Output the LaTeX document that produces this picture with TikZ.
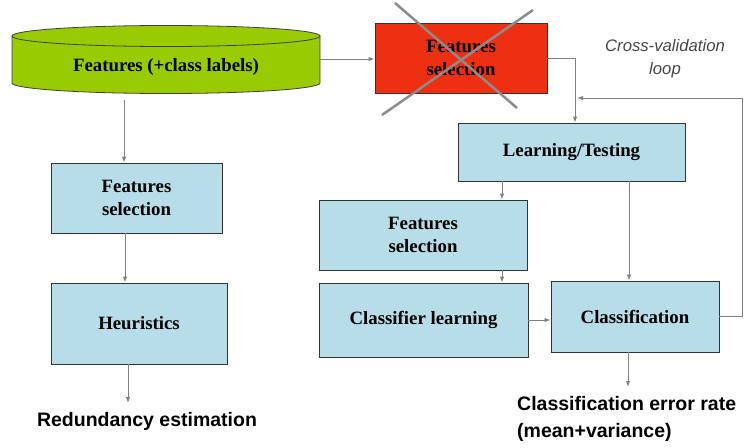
\documentclass[tikz,border=0pt]{standalone}
\usepackage{fontspec}
\setmainfont{Liberation Serif}
\newfontfamily\arialf{Liberation Sans}
\usetikzlibrary{arrows.meta,calc}
\definecolor{cylgreen}{RGB}{153,204,0}
\definecolor{boxblue}{RGB}{183,221,232}
\definecolor{redbox}{RGB}{238,48,18}
\definecolor{linegray}{RGB}{128,128,128}
\definecolor{crossgray}{RGB}{140,140,140}
\definecolor{loopgray}{RGB}{70,70,70}
\tikzset{
  procbox/.style={draw=black!80, line width=0.8pt, fill=boxblue, align=center, inner sep=0pt,
    font=\bfseries\fontsize{18.8}{23}\selectfont},
  arr/.style={draw=linegray, line width=1pt, -{Latex[length=6pt,width=4.5pt]}},
  outtext/.style={font=\arialf\bfseries\fontsize{19.5}{27}\selectfont, inner sep=0pt, align=left},
}
\begin{document}
\begin{tikzpicture}[x=1pt,y=-1pt]
\useasboundingbox (0,0) rectangle (746,447);
% cylinder
\path[fill=cylgreen, draw=black!75, line width=0.8pt]
  (12,36) -- (12,83) arc[start angle=180, end angle=0, x radius=154, y radius=10.5] -- (320,36) -- cycle;
\path[fill=cylgreen, draw=black!75, line width=0.8pt] (166,36) ellipse[x radius=154, y radius=10.5];
\node[minimum width=308, minimum height=68, inner sep=0pt] (feat) at (166,59) {};
\node[font=\bfseries\fontsize{18.8}{23}\selectfont, inner sep=0pt] (feattxt) at (166,67) {Features (+class labels)};
% red box
\node[procbox, fill=redbox, minimum width=172, minimum height=70] (fsx) at (461,58) {Features\\selection};
\draw[crossgray, line width=2.5pt] (395,3) -- (517,108);
\draw[crossgray, line width=2.5pt] (533,10) -- (382,115);
% boxes
\node[procbox, minimum width=171, minimum height=70] (lfs) at (136.5,198) {Features\\selection};
\node[procbox, minimum width=176, minimum height=81] (heur) at (139,323.5) {Heuristics};
\node[procbox, minimum width=227, minimum height=58] (lt) at (571.5,152) {Learning/Testing};
\node[procbox, minimum width=208, minimum height=70] (rfs) at (423,235) {Features\\selection};
\node[procbox, minimum width=209, minimum height=74] (cl) at (423.5,320) {Classifier learning};
\node[procbox, minimum width=168, minimum height=71] (cls) at (635,316.5) {Classification};
% texts
\node[outtext, anchor=north] (red) at (147,412) {Redundancy estimation};
\node[outtext, anchor=north west] (err) at (517,396) {Classification error rate\\(mean+variance)};
\node[font=\arialf\itshape\fontsize{16.7}{23}\selectfont, text=loopgray, align=center, inner sep=0pt] (cvl) at (665,59) {Cross-validation\\loop};
% connectors
\draw[arr] (feat.east) -- (feat.east -| fsx.west);
\draw[arr] (fsx.east) -| ([xshift=3.5pt]lt.north);
\coordinate (loopend) at (577,98);
\draw[arr] (cls.east) -- ++(23,0) |- (loopend);
\draw[arr] ([xshift=-12.5pt,yshift=-7pt]lfs.north |- feat.south) -- ([xshift=-12.5pt]lfs.north);
\draw[arr] ([xshift=-11.5pt]lfs.south) -- ([xshift=-11.5pt]lfs.south |- heur.north);
\coordinate (redtop) at ([xshift=-11pt]heur.south |- red.north);
\draw[arr] ([xshift=-11pt]heur.south) -- ([yshift=9pt]redtop);
\draw[arr] ([xshift=79pt]rfs.north |- lt.south) -- ([xshift=79pt]rfs.north);
\draw[arr] ([xshift=79pt]rfs.south) -- ([xshift=79pt]rfs.south |- cl.north);
\draw[arr] ([xshift=-6pt]cls.north |- lt.south) -- ([xshift=-6pt]cls.north);
\draw[arr] (cl.east) -- (cl.east -| cls.west);
\coordinate (errtop) at ([xshift=-7pt]cls.south |- err.north);
\draw[arr] ([xshift=-7pt]cls.south) -- ([yshift=9pt]errtop);
\end{tikzpicture}
\end{document}
